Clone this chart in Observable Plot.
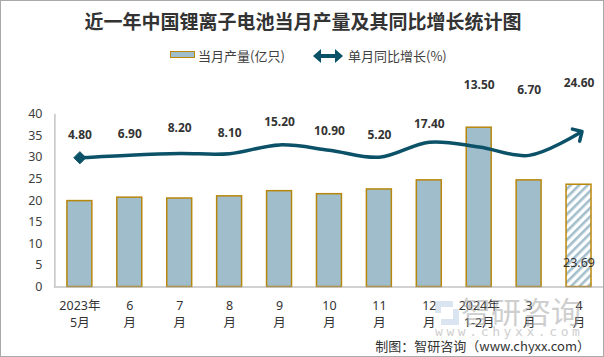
<!DOCTYPE html>
<html>
<head>
<meta charset="utf-8">
<script src="https://cdn.jsdelivr.net/npm/d3@7"></script>
<script src="https://cdn.jsdelivr.net/npm/@observablehq/plot@0.6"></script>
<style>
  html, body { margin: 0; padding: 0; background: #fff; }
  #wrap { position: relative; width: 604px; height: 357px; box-sizing: border-box; border: 1px solid #a9a9a9; overflow: hidden; font-family: "Noto Sans", "Noto Sans CJK SC", sans-serif; }
  #chart { position: absolute; left: -1px; top: -1px; }
  .abs { position: absolute; white-space: nowrap; }
</style>
</head>
<body>
<div id="wrap">
  <div id="chart"></div>
  <div class="abs" style="left:0;width:604px;top:9px;text-align:center;font:bold 19px/22px 'Noto Sans CJK SC',sans-serif;color:#333;">近一年中国锂离子电池当月产量及其同比增长统计图</div>
  <div class="abs" style="left:169px;top:50px;width:23px;height:5px;background:#9fbdca;border:1.5px solid #b8860b;"></div>
  <div class="abs" style="left:197px;top:45px;font:13px/20px 'Noto Sans CJK SC',sans-serif;color:#404040;">当月产量(亿只)</div>
  <svg class="abs" style="left:311px;top:46px;" width="32" height="18" viewBox="0 0 32 18">
    <path d="M3,9 H29" stroke="#0b5168" stroke-width="4" fill="none"/>
    <path d="M9,2 L1,9 L9,16 Z" fill="#0b5168"/>
    <path d="M23,2 L31,9 L23,16 Z" fill="#0b5168"/>
  </svg>
  <div class="abs" style="left:347px;top:45px;font:13px/20px 'Noto Sans CJK SC',sans-serif;color:#404040;">单月同比增长(%)</div>
  <div class="abs" style="right:13px;top:335px;font:13px/20px 'Noto Sans CJK SC',sans-serif;color:#333;">制图：智研咨询（www.chyxx.com）</div>
  <div class="abs" style="left:432px;top:296px;opacity:0.5;pointer-events:none;">
    <svg width="28" height="28" viewBox="0 0 28 28" style="position:absolute;left:0;top:2px;">
      <path d="M2,2 H20 V8 H8 V14 H2 Z" fill="#b8cde6"/>
      <path d="M26,10 V26 H8 V20 H20 V10 Z" fill="#b8cde6"/>
    </svg>
    <div style="position:absolute;left:28px;top:-4px;font:30px/34px 'Noto Sans CJK SC',sans-serif;color:#9e9e9e;">智研咨询</div>
    <div style="position:absolute;left:2px;top:27px;font:13px/16px 'DejaVu Sans Mono',monospace;letter-spacing:3.6px;color:#a0a0a0;">www.chyxx.com</div>
  </div>
</div>
<script>
// ---- data ----
const months = ["2023年\n5月", "6\n月", "7\n月", "8\n月", "9\n月", "10\n月", "11\n月", "12\n月", "2024年\n1-2月", "3\n月", "4\n月"];
const output = [19.9, 20.7, 20.5, 21.0, 22.2, 21.5, 22.6, 24.7, 36.9, 24.7, 23.69];
const growth = [4.8, 6.9, 8.2, 8.1, 15.2, 10.9, 5.2, 17.4, 13.5, 6.7, 24.6];
const yTicks = [0, 5, 10, 15, 20, 25, 30, 35, 40];
// secondary (hidden) axis for the growth line
const growthAxisDomain = [-100, 40];

// ---- layout helpers (label lift above the line, in primary-axis units) ----
const labelLift = [5.2, 4.8, 5.9, 4.7, 5.2, 4.4, 5.1, 4.1, 14.3, 15.0, 11.5];

const rows = months.map((m, i) => ({month: m, output: output[i], growth: growth[i], i}));
const solid = rows.slice(0, rows.length - 1);
const latest = rows.slice(rows.length - 1);
const sec = d3.scaleLinear().domain(growthAxisDomain).range([0, 40]);

const lineColor = "#0b5168";
const barFill = "#9fbdca";
const barStroke = "#b8860b";

const plot = Plot.plot({
  width: 604,
  height: 357,
  marginTop: 114,
  marginBottom: 70,
  marginLeft: 54,
  marginRight: 0,
  style: {fontFamily: "'Noto Sans', 'Noto Sans CJK SC', sans-serif", background: "transparent", overflow: "visible"},
  x: {domain: months, paddingInner: 0.5, paddingOuter: 0.25, axis: null},
  y: {domain: [0, 40], axis: null},
  marks: [
    Plot.barY(solid, {x: "month", y: "output", fill: barFill, stroke: barStroke, strokeWidth: 1.5}),
    Plot.barY(latest, {x: "month", y: "output", fill: "url(#hatch)", stroke: barStroke, strokeWidth: 1.5}),
    Plot.ruleY([0], {stroke: "#a6a6a6", strokeWidth: 1}),
    Plot.ruleX([months[0]], {y1: 0, y2: 40, dx: -25, stroke: "#a6a6a6", strokeWidth: 1}),
    Plot.axisY({ticks: yTicks, tickSize: 0, tickPadding: 12, fontSize: 12.5, fill: "#404040", label: null}),
    Plot.line(rows, {x: "month", y: d => sec(d.growth), curve: "catmull-rom", stroke: lineColor, strokeWidth: 3.5, markerEnd: "arrow"}),
    Plot.dot(rows.slice(0, 1), {x: "month", y: d => sec(d.growth), symbol: "diamond2", r: 5.5, fill: lineColor, stroke: lineColor, strokeWidth: 1}),
    Plot.text(rows, {x: "month", y: d => sec(d.growth) + labelLift[d.i], text: d => d.growth.toFixed(2), fontSize: 12, fontWeight: "bold", fill: "#333"}),
    Plot.text(latest, {x: "month", frameAnchor: "bottom", dy: -20, text: d => d.output.toFixed(2), fontSize: 12.5, fill: "#333", stroke: "none"}),
    Plot.text(months, {x: d => d, frameAnchor: "bottom", dy: 26, lineAnchor: "middle", lineHeight: 1.34, text: d => d, fontSize: 12.5, fill: "#333"})
  ]
});

// hatch pattern for the latest (preliminary) bar
const ns = "http://www.w3.org/2000/svg";
const defs = document.createElementNS(ns, "defs");
defs.innerHTML = `<pattern id="hatch" patternUnits="userSpaceOnUse" width="6" height="6" patternTransform="rotate(45)">
  <rect width="6" height="6" fill="#ffffff"></rect>
  <rect width="2.6" height="6" fill="#a3bfcc"></rect>
</pattern>`;
plot.insertBefore(defs, plot.firstChild);

document.getElementById("chart").appendChild(plot);
</script>
</body>
</html>
